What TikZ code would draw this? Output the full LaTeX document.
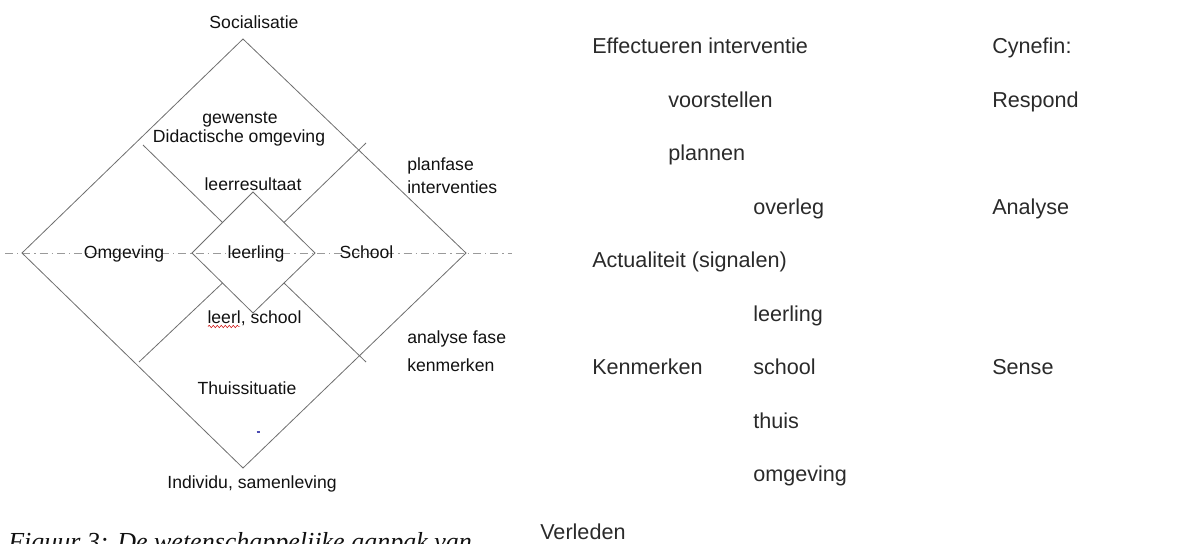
\documentclass[tikz,border=0pt]{standalone}
\usepackage{fontspec}
\setmainfont{Liberation Sans}
\newfontfamily\capfont{Liberation Serif}
\usetikzlibrary{calc,decorations.pathmorphing}
\definecolor{lijn}{HTML}{6E6E6E}
\definecolor{aslijn}{HTML}{9A9A9A}
\definecolor{tekst}{HTML}{111111}
\definecolor{rtekst}{HTML}{2A2A2A}
\tikzset{
  lbl/.style={font=\fontsize{13.2}{15}\selectfont, text=tekst, inner sep=0pt, anchor=base},
  lbll/.style={lbl, anchor=base west},
  rlbl/.style={font=\fontsize{16.2}{19}\selectfont, text=rtekst, inner sep=0pt, anchor=base west},
  rand/.style={draw=lijn, line width=0.6pt},
  as/.style={draw=aslijn, line width=0.6pt, dash pattern=on 6pt off 3pt on 1pt off 3pt}
}
\begin{document}
\begin{tikzpicture}[x=0.75pt, y=-0.75pt]
\useasboundingbox (0,0) rectangle (1188,543);
\draw[as] (5,253) -- (512,253);
\coordinate (gl) at (22,253);
\coordinate (gt) at (243,39);
\coordinate (gr) at (466,253);
\coordinate (gb) at (243,468);
\coordinate (kl) at (192,253);
\coordinate (kt) at (253,192);
\coordinate (kr) at (315,253);
\coordinate (kb) at (253,313);
\draw[rand] (gl) -- (gt) -- (gr) -- (gb) -- cycle;
\draw[rand] (kl) -- (kt) -- (kr) -- (kb) -- cycle;
\draw[rand] (143,145) -- ($(kl)!0.5!(kt)$);
\draw[rand] (366,143) -- ($(kt)!0.5!(kr)$);
\draw[rand] ($(kl)!0.5!(kb)$) -- (139,362);
\draw[rand] ($(kb)!0.5!(kr)$) -- (366,362);
\node[lbl] (soc) at (254,28.3) {Socialisatie};
\node[lbl] (gew) at (240,123) {gewenste};
\node[lbl] (did) at (239,142.7) {Didactische omgeving};
\node[lbl] (res) at (253,190.7) {leerresultaat};
\node[lbll] (plan) at (407,170) {planfase};
\node[lbll] (int) at (407,193.3) {interventies};
\node[lbl] (omg) at (124,258.3) {Omgeving};
\node[lbl] (llg) at (256,258.3) {leerling};
\node[lbl] (sch) at (366.5,258.3) {School};
\node[lbl] (ls) at (254.5,323.3) {leerl, school};
\draw[red!80!black, line width=0.35pt, decorate,
  decoration={snake, amplitude=0.9pt, segment length=3pt}] (208,326.5) -- (240,326.5);
\node[lbll] (ana) at (407,343.3) {analyse fase};
\node[lbll] (ken) at (407,371) {kenmerken};
\node[lbl] (thuis) at (247,394.3) {Thuissituatie};
\draw[blue!40!gray, line width=0.8pt] (256.5,432) -- (259.5,432);
\node[lbl] (ind) at (252,488.3) {Individu, samenleving};
\node[anchor=base west, inner sep=0pt, text=tekst,
  font=\capfont\itshape\fontsize{19.5}{23}\selectfont] (fig) at (8,550)
  {Figuur 3: De wetenschappelijke aanpak van};
\node[rlbl] (eff) at (592,53.5) {Effectueren interventie};
\node[rlbl] (voor) at (668,107) {voorstellen};
\node[rlbl] (pln) at (668,160.5) {plannen};
\node[rlbl] (ovl) at (753,214) {overleg};
\node[rlbl] (act) at (592,267.5) {Actualiteit (signalen)};
\node[rlbl] (rll) at (753,321) {leerling};
\node[rlbl] (rken) at (592,374.5) {Kenmerken};
\node[rlbl] (rsch) at (753,374.5) {school};
\node[rlbl] (rth) at (753,428) {thuis};
\node[rlbl] (romg) at (753,481.5) {omgeving};
\node[rlbl] (verl) at (540,539) {Verleden};
\node[rlbl] (cyn) at (992,53.5) {Cynefin:};
\node[rlbl] (resp) at (992,107) {Respond};
\node[rlbl] (anl) at (992,214) {Analyse};
\node[rlbl] (sens) at (992,374.5) {Sense};
\end{tikzpicture}
\end{document}
